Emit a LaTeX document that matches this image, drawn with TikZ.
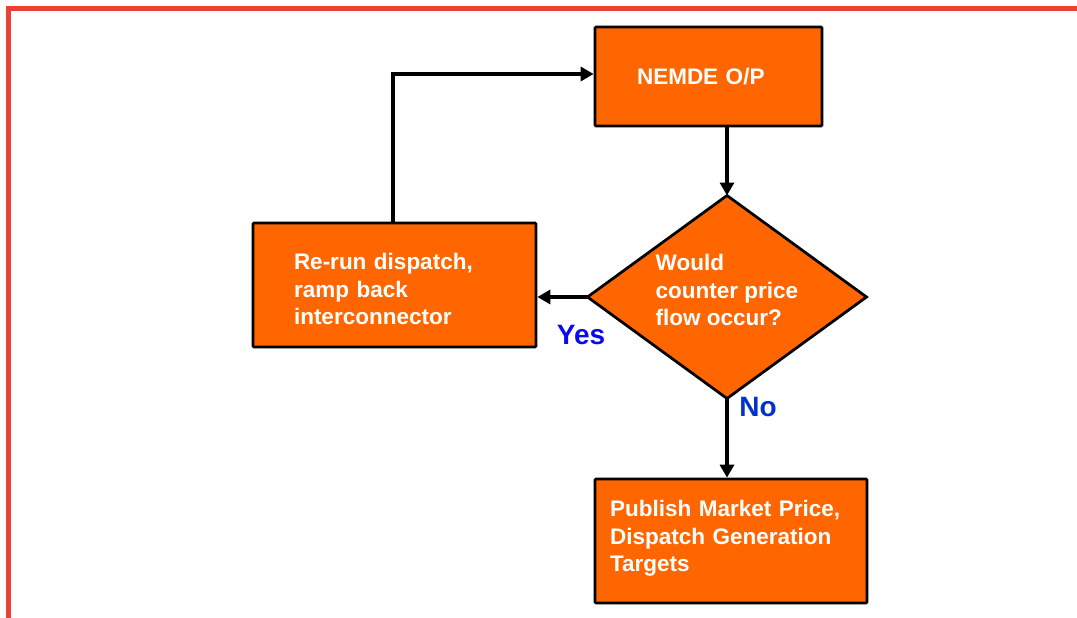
\documentclass[tikz,border=0pt]{standalone}
\usepackage{fontspec}
\setmainfont{Liberation Sans}
\usetikzlibrary{shapes.geometric,arrows.meta,calc}
\definecolor{boxorange}{RGB}{255,102,0}
\definecolor{framered}{RGB}{234,67,53}
\definecolor{yesblue}{RGB}{10,10,240}
\definecolor{noblue}{RGB}{0,51,204}
\begin{document}
\begin{tikzpicture}[x=1pt,y=-1pt,
  boxstyle/.style={draw=black,line width=2.75pt,fill=boxorange,rounded corners=1pt,
    text=white,font=\bfseries\fontsize{22.5}{27.5}\selectfont,align=left,inner ysep=0pt},
  diastyle/.style={draw=black,line width=2.75pt,fill=boxorange,shape=diamond,inner sep=0pt,
    outer sep=0pt,minimum width=279pt,minimum height=203pt},
  txtstyle/.style={text=white,font=\bfseries\fontsize{22.5}{27.5}\selectfont,align=left,inner sep=0pt},
  lblstyle/.style={font=\bfseries\fontsize{28}{32}\selectfont,inner sep=0pt},
  conn/.style={draw=black,line width=4pt,-{Triangle[length=13pt,width=14pt]}}]
\useasboundingbox (0,0) rectangle (1077,618);
\fill[white] (0,0) rectangle (1077,618);
% red frame
\draw[framered,line width=5pt] (8.5,618) -- (8.5,8.5) -- (1077,8.5);
% nodes
\node[boxstyle,minimum width=227pt,minimum height=99pt,inner xsep=42pt,text width=143pt] (nemde) at (708.5,76.5) {NEMDE O/P};
\node[diastyle] (dia) at (727,297) {};
\node[txtstyle] (diatext) at (727,290) {Would\\counter price\\flow occur?};
\node[boxstyle,minimum width=283pt,minimum height=124pt,inner xsep=41pt,text width=201pt] (rerun) at (394.5,285) {};
\node[txtstyle,text width=201pt] (reruntext) at (394.5,289) {Re-run dispatch,\\ramp back\\interconnector};
\node[boxstyle,minimum width=272pt,minimum height=124pt,inner xsep=15pt,text width=242pt] (pub) at (731,541) {};
\node[txtstyle,text width=242pt] (pubtext) at (731,538.5) {Publish Market Price,\\Dispatch Generation\\Targets};
\node[lblstyle,text=yesblue] (yes) at (581,335) {Yes};
\node[lblstyle,text=noblue] (no) at (758,407) {No};
% connectors
\draw[conn] (nemde.south -| dia.north) -- (dia.north);
\draw[conn] (dia.west) -- (dia.west -| rerun.east);
\draw[conn] (dia.south) -- (dia.south |- pub.north);
\draw[conn] ([xshift=-1.5pt]rerun.north) |- ([yshift=2.5pt]nemde.west);
\end{tikzpicture}
\end{document}
